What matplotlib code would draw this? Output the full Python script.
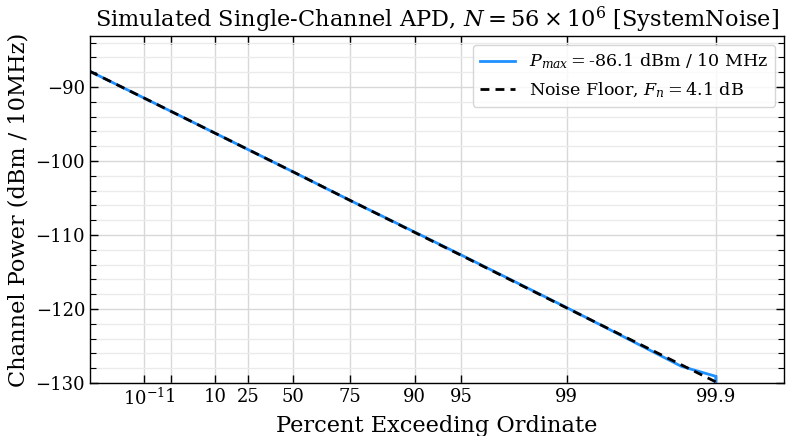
import numpy as np
import matplotlib
matplotlib.use("Agg")
import matplotlib.pyplot as plt
from matplotlib.ticker import MultipleLocator, FixedLocator, FixedFormatter

plt.rcParams['font.family'] = ['DejaVu Serif']
plt.rcParams['mathtext.fontset'] = 'dejavuserif'

# ---- data (percent exceeding, dBm / 10 MHz) ----
noise_pct = [1e-5, 0.1, 1, 10, 25, 50, 75, 90, 95, 99, 99.9]
noise_dbm = [-87.85, -91.5, -93.25, -96.25, -98.45, -101.45, -105.3, -109.65, -112.75, -119.85, -129.85]

apd_pct = [1e-5, 0.1, 1, 10, 25, 50, 75, 90, 95, 99, 99.83, 99.9, 99.9]
apd_dbm = [-87.85, -91.5, -93.25, -96.25, -98.45, -101.45, -105.3, -109.6, -112.7, -119.8, -127.75, -129.1, -131.0]

tick_pct = [0.1, 1, 10, 25, 50, 75, 90, 95, 99, 99.9]
tick_labels = [r"$10^{-1}$", "1", "10", "25", "50", "75", "90", "95", "99", "99.9"]
y_ticks = [-90, -100, -110, -120, -130]

p_max = -86.1
noise_fig = 4.1


def fwd(p):
    p = np.clip(np.asarray(p, dtype=float) / 100.0, 1e-300, 1 - 1e-16)
    return -np.log(-np.log(p))


def inv(x):
    return 100.0 * np.exp(-np.exp(-np.asarray(x, dtype=float)))


fig = plt.figure(figsize=(7.86, 4.36), dpi=100)
ax = fig.add_axes([0.1145, 0.1216, 0.883, 0.7958])
ax.set_xscale('function', functions=(fwd, inv))

ax.plot(apd_pct, apd_dbm, color='#1E90FF', lw=2.0, label=r"$P_{max} = $" + f"{p_max} dBm / 10 MHz")
ax.plot(noise_pct, noise_dbm, color='black', lw=2.0, ls=(0, (3.2, 2.2)),
        label=r"Noise Floor, $F_n = $" + f"{noise_fig} dB")

ax.set_xlim(inv(-2.773), inv(7.964))
ax.set_ylim(-130, p_max + 3)

ax.xaxis.set_major_locator(FixedLocator(tick_pct))
ax.xaxis.set_major_formatter(FixedFormatter(tick_labels))
ax.xaxis.set_minor_locator(FixedLocator([]))
ax.set_yticks(y_ticks)
ax.yaxis.set_minor_locator(MultipleLocator(2))

for s in ax.spines.values():
    s.set_linewidth(1.0)

ax.tick_params(axis='both', which='both', direction='in', top=True, right=True, labelsize=13)
ax.tick_params(which='major', length=6, width=1.0)
ax.tick_params(which='minor', length=4, width=0.8)

ax.grid(True, which='major', color='#d8d8d8', lw=1.0)
ax.grid(True, which='minor', axis='y', color='#ebebeb', lw=1.0)
ax.set_axisbelow(True)

ax.set_title(r"Simulated Single-Channel APD, $N = 56\times10^{6}$ [SystemNoise]", fontsize=16.2)
ax.set_xlabel("Percent Exceeding Ordinate", fontsize=16.2)
ax.set_ylabel("Channel Power (dBm / 10MHz)", fontsize=16.2)

ax.legend(loc='upper right', fontsize=12.6, framealpha=0.8, handlelength=2.0)

fig.savefig("out.png", dpi=100)
